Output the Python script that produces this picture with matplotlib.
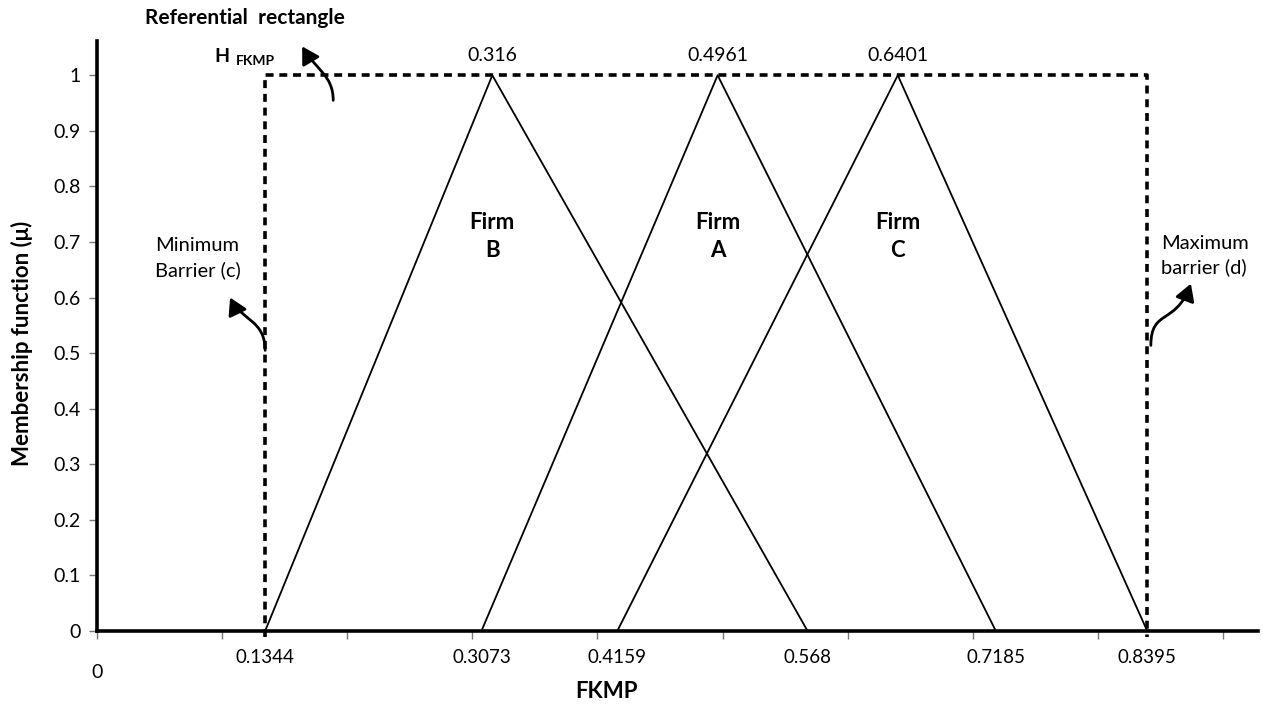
import numpy as np
import matplotlib.pyplot as plt
from matplotlib.patches import FancyArrowPatch
from matplotlib.path import Path

# triangular fuzzy numbers (left, peak, right) per firm
firms = ["B", "A", "C"]
left_ends = [0.1344, 0.3073, 0.4159]
peaks = [0.316, 0.4961, 0.6401]
right_ends = [0.568, 0.7185, 0.8395]
peak_labels = ["0.316", "0.4961", "0.6401"]

# referential rectangle
barrier_min = 0.1344
barrier_max = 0.8395
h_fkmp = 1.0

x_label_vals = [0.1344, 0.3073, 0.4159, 0.568, 0.7185, 0.8395]
x_label_txt = ["0.1344", "0.3073", "0.4159", "0.568", "0.7185", "0.8395"]
y_ticks = [0, 0.1, 0.2, 0.3, 0.4, 0.5, 0.6, 0.7, 0.8, 0.9, 1.0]
y_tick_txt = ["0", "0.1", "0.2", "0.3", "0.4", "0.5", "0.6", "0.7", "0.8", "0.9", "1"]

plt.rcParams["font.family"] = ["Lato", "DejaVu Sans"]

fig = plt.figure(figsize=(12.63, 7.04), dpi=100)
ax = fig.add_axes([0.0768, 0.1037, 0.9192, 0.8383])
ax.set_xlim(0, 0.928)
ax.set_ylim(0, 1.062)

# triangles
for l, p, r in zip(left_ends, peaks, right_ends):
    ax.plot([l, p, r], [0, 1, 0], color="black", lw=1.3, clip_on=False)

# dashed rectangle
ax.plot([barrier_min, barrier_min, barrier_max, barrier_max],
        [-0.01, h_fkmp, h_fkmp, -0.01], color="black", lw=2.6,
        linestyle=(0, (2.2, 1.6)), clip_on=False, zorder=3)

# spines
for s in ["top", "right"]:
    ax.spines[s].set_visible(False)
ax.spines["left"].set_linewidth(2.6)
ax.spines["bottom"].set_linewidth(2.6)

# y ticks
ax.set_yticks(y_ticks)
ax.set_yticklabels(y_tick_txt, fontsize=14)
ax.tick_params(axis="y", length=6, width=1, color="#777777", pad=6)

# x ticks: marks at 0.1 steps, labels at the fuzzy values
ax.set_xticks(np.arange(0, 0.95, 0.1))
ax.set_xticklabels([])
ax.tick_params(axis="x", which="major", length=6, width=1, color="#777777")
ax.set_xticks(x_label_vals, minor=True)
ax.set_xticklabels(x_label_txt, minor=True, fontsize=13.5)
ax.tick_params(axis="x", which="minor", length=0, pad=13)
ax.text(0, -0.07, "0", transform=ax.get_xaxis_transform(), ha="center",
        va="center", fontsize=14)

ax.set_xlabel("FKMP", fontsize=16, fontweight="bold")
ax.xaxis.set_label_coords(0.439, -0.084)
ax.set_ylabel("Membership function (\u03bc)", fontsize=16, fontweight="bold")
ax.yaxis.set_label_coords(-0.055, 0.487)

# peak values and firm names
for f, p, lab in zip(firms, peaks, peak_labels):
    ax.text(p, 1.036, lab, ha="center", va="center", fontsize=14)
    ax.text(p, 0.71, "Firm\n" + f, ha="center", va="center", fontsize=16,
            fontweight="bold", linespacing=1.45)

ax.text(0.1184, 1.1025, "Referential  rectangle", ha="center", va="center",
        fontsize=15, fontweight="bold", clip_on=False)
ax.text(0.106, 1.034, "H", ha="right", va="center", fontsize=14,
        fontweight="bold")
ax.text(0.111, 1.026, "FKMP", ha="left", va="center", fontsize=10,
        fontweight="bold")

ax.text(0.0464, 0.671, "Minimum\nBarrier (c)", ha="left", va="center",
        fontsize=14.5, linespacing=1.45)
ax.text(0.8504, 0.676, "Maximum\nbarrier (d)", ha="left", va="center",
        fontsize=14.5, linespacing=1.45)


def curved_arrow(p0, c1, c2, p1):
    path = Path([p0, c1, c2, p1], [Path.MOVETO, Path.CURVE4, Path.CURVE4, Path.CURVE4])
    arr = FancyArrowPatch(path=path, arrowstyle="-|>,head_length=0.6,head_width=0.35",
                          mutation_scale=17, color="black", lw=2,
                          transform=ax.transData, clip_on=False)
    ax.add_patch(arr)


curved_arrow((0.1888, 0.955), (0.1888, 1.0), (0.175, 1.01), (0.164, 1.052))
curved_arrow((0.1344, 0.505), (0.1344, 0.56), (0.115, 0.56), (0.1064, 0.60))
curved_arrow((0.8424, 0.514), (0.8424, 0.58), (0.862, 0.55), (0.8744, 0.625))

fig.savefig("out.png", dpi=100)
